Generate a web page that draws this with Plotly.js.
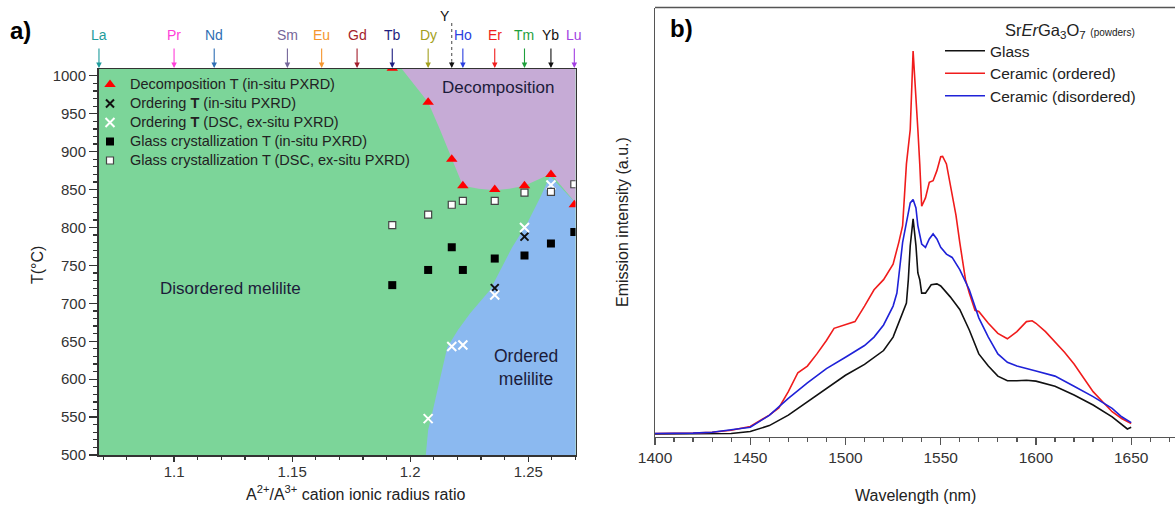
<!DOCTYPE html>
<html>
<head>
<meta charset="utf-8">
<script src="https://cdn.plot.ly/plotly-3.0.1.min.js"></script>
<style>html,body{margin:0;padding:0;background:#fff;}#chart{width:1175px;height:505px;}</style>
</head>
<body>
<div id="chart"></div>
<script>
// ---------- Panel a data ----------
const elems = ['La','Pr','Nd','Sm','Eu','Gd','Tb','Dy','Ho','Er','Tm','Yb','Lu'];
const elemRatio = [1.0682,1.100,1.117,1.148,1.1625,1.1775,1.1924,1.2076,1.2223,1.2358,1.2484,1.2596,1.2695];
const elemColors = ['#1f9c9c','#ff3fd8','#2f6fb4','#75679a','#f5962e','#a41e2c','#1e1e80','#a3a020','#2b3fe0','#f01e1e','#1fa03c','#111111','#a23fe2'];
const yttriumRatio = 1.2176;

const decompX = [1.1924,1.2076,1.2176,1.2223,1.2358,1.2484,1.2596,1.2695];
const decompT = [1010,965,890,855,850,855,870,830];
const orderInsituX = [1.2358,1.2484];
const orderInsituT = [720,788];
const orderDscX = [1.2076,1.2176,1.2223,1.2358,1.2484,1.2596];
const orderDscT = [548,643,645,711,800,856];
const glassInsituX = [1.1924,1.2076,1.2176,1.2223,1.2358,1.2484,1.2596,1.2695];
const glassInsituT = [724,744,774,744,759,763,779,794];
const glassDscX = [1.1924,1.2076,1.2176,1.2223,1.2358,1.2484,1.2596,1.2695];
const glassDscT = [803,817,830,835,835,846,847,857];

const decompRegionX = [1.1937,1.2076,1.2125,1.2176,1.2223,1.2290,1.2358,1.2420,1.2484,1.2596,1.2710,1.2710,1.1937];
const decompRegionT = [1020,965,930,890,855,851,849,851,855,871,829,1020,1020];
const orderedRegionX = [1.2063,1.2076,1.2093,1.2127,1.2157,1.2203,1.2254,1.2339,1.2432,1.2496,1.2551,1.2592,1.2710,1.2710];
const orderedRegionT = [490,533,555,599,642,665,687,718,774,806,840,868,829,490];

const xTickVals = [1.1,1.15,1.2,1.25];
const xTickText = ['1.1','1.15','1.2','1.25'];
const yTickVals = [500,550,600,650,700,750,800,850,900,950,1000];

// ---------- Panel b data ----------
const wlGlass = [1400,1410,1420,1430,1440,1450,1460,1470,1480,1490,1500,1510,1520,1525,1530,1532,1533,1534,1535.5,1537,1538,1539,1540,1542,1545,1548,1550,1555,1560,1565,1570,1575,1580,1585,1590,1595,1600,1610,1620,1630,1640,1645,1648,1650];
const glass = [0.3,0.3,0.3,0.3,0.4,0.9,2.3,4.8,8.0,11.2,14.3,16.9,20.2,23.4,29.1,31.5,37.1,45.2,51.6,45.2,38.7,37.1,33.9,33.9,35.9,36.1,35.6,33.0,30.0,25.1,19.4,16.5,14.1,13.0,13.0,13.1,12.9,11.7,9.6,7.2,4.4,2.5,1.5,1.9];
const wlOrdered = [1400,1410,1420,1430,1440,1450,1460,1465,1470,1475,1480,1485,1490,1494,1500,1505,1510,1515,1520,1525,1528,1530,1532,1534,1535.5,1536.5,1538,1539,1540,1542,1544,1546,1548,1550,1551,1553,1555,1558,1560,1563,1565,1568,1570,1575,1580,1585,1590,1595,1598,1600,1605,1610,1615,1620,1625,1630,1635,1640,1645,1650];
const ordered = [0.4,0.4,0.5,0.7,1.2,2.1,4.8,6.5,10.4,14.9,16.5,19.4,22.6,25.5,26.3,27.1,30.8,34.7,37.1,40.8,46.0,50.0,64.7,72.9,91.6,85,72.9,64.7,54.6,56.6,60.3,60.7,63.1,66.4,66.5,64.7,59.9,52.5,46.0,37.1,33.9,29.8,29.5,26.7,24.3,23.0,24.7,27.1,27.3,26.7,24.7,22.2,19.8,17.0,13.7,10.4,8.0,5.6,4.0,2.8];
const wlDisordered = [1400,1410,1420,1430,1440,1450,1460,1470,1480,1490,1500,1510,1515,1520,1525,1527,1530,1532,1534,1535.5,1537,1538,1540,1542,1544,1546,1548,1550,1553,1556,1560,1565,1570,1575,1580,1585,1590,1600,1610,1620,1630,1640,1645,1650];
const disordered = [0.4,0.4,0.5,0.7,1.3,1.9,4.75,8.8,12.5,15.9,18.6,21.4,23.4,26.3,30.8,33.9,46.0,50.9,55.4,56.2,54.2,50.0,45.6,44.8,46.8,48.0,46.8,44.8,43.2,42.4,39.5,34.7,28.0,23.4,19.4,17.4,16.5,15.3,14.1,11.7,9.2,6.4,4.4,3.0];

// ---------- layout helpers ----------
const W = 1175, H = 505;
const px = v => v / W;
const py = v => 1 - v / H;
const FONT = 'Liberation Sans, Arial, sans-serif';
const GREEN = 'rgb(124,213,153)', PURPLE = 'rgb(198,171,214)', BLUE = 'rgb(139,185,240)';
const big = (s, size) => '<span style="font-size:' + size + 'px">' + s + '</span>';

const traces = [
  {x: orderedRegionX, y: orderedRegionT, type:'scatter', mode:'lines', fill:'toself', fillcolor: BLUE, line:{width:0, color: BLUE}, hoverinfo:'skip', showlegend:false, xaxis:'x', yaxis:'y'},
  {x: decompRegionX, y: decompRegionT, type:'scatter', mode:'lines', fill:'toself', fillcolor: PURPLE, line:{width:0, color: PURPLE}, hoverinfo:'skip', showlegend:false, xaxis:'x', yaxis:'y'},
  {x: orderInsituX, y: orderInsituT, type:'scatter', mode:'markers', name: big('Ordering <b>T</b> (in-situ PXRD)', 14.5), legendrank:2,
   marker:{symbol:'x-thin-open', size:8, color:'#111', line:{color:'#111', width:2}}, xaxis:'x', yaxis:'y'},
  {x: orderDscX, y: orderDscT, type:'scatter', mode:'markers', name: big('Ordering <b>T</b> (DSC, ex-situ PXRD)', 14.5), legendrank:3,
   marker:{symbol:'x-thin-open', size:9, color:'#ffffff', line:{color:'#ffffff', width:2}}, xaxis:'x', yaxis:'y'},
  {x: glassDscX, y: glassDscT, type:'scatter', mode:'markers', name: big('Glass crystallization T (DSC, ex-situ PXRD)', 14.5), legendrank:5,
   marker:{symbol:'square', size:7, color:'#ffffff', line:{color:'#444', width:1.2}}, xaxis:'x', yaxis:'y'},
  {x: glassInsituX, y: glassInsituT, type:'scatter', mode:'markers', name: big('Glass crystallization T (in-situ PXRD)', 14.5), legendrank:4,
   marker:{symbol:'square', size:8, color:'#000000'}, xaxis:'x', yaxis:'y'},
  {x: decompX, y: decompT, type:'scatter', mode:'markers', name: big('Decomposition T (in-situ PXRD)', 14.5), legendrank:1,
   marker:{symbol:'triangle-up', size:10, color:'#ff0000'}, xaxis:'x', yaxis:'y'},
  {x: wlGlass, y: glass, type:'scatter', mode:'lines', name: big('Glass', 15.5), line:{color:'#111', width:1.6}, xaxis:'x2', yaxis:'y2', legend:'legend2', legendrank:1},
  {x: wlOrdered, y: ordered, type:'scatter', mode:'lines', name: big('Ceramic (ordered)', 15.5), line:{color:'#f01c1c', width:1.6}, xaxis:'x2', yaxis:'y2', legend:'legend2', legendrank:2},
  {x: wlDisordered, y: disordered, type:'scatter', mode:'lines', name: big('Ceramic (disordered)', 15.5), line:{color:'#1f22d8', width:1.6}, xaxis:'x2', yaxis:'y2', legend:'legend2', legendrank:3}
];

const annotations = [];
const shapes = [];
// green background of panel a only
shapes.push({type:'rect', xref:'x domain', yref:'y domain', x0:0, x1:1, y0:0, y1:1, fillcolor: GREEN, line:{width:0}, layer:'below'});

elems.forEach((e, i) => {
  annotations.push({x: elemRatio[i], xref:'x', y: py(35), yref:'paper', xanchor:'center', yanchor:'middle', text: e, showarrow:false,
    font:{size:14, color: elemColors[i], family: FONT}});
  annotations.push({x: elemRatio[i], xref:'x', y: py(68), yref:'paper', text:'', showarrow:true,
    ax:0, ay:-21, arrowhead:2, arrowsize:1, arrowwidth:1.1, arrowcolor: elemColors[i]});
});
annotations.push({x: yttriumRatio, xref:'x', xshift:-7, y: py(16), yref:'paper', xanchor:'center', yanchor:'middle', text:'Y', showarrow:false, font:{size:14, color:'#111', family: FONT}});
annotations.push({x: yttriumRatio, xref:'x', y: py(68), yref:'paper', text:'', showarrow:true, ax:0, ay:-8, arrowhead:2, arrowsize:1, arrowwidth:1.1, arrowcolor:'#111'});
shapes.push({type:'line', xref:'x', x0: yttriumRatio, x1: yttriumRatio, yref:'paper', y0: py(23), y1: py(61), line:{color:'#444', width:1, dash:'dot'}});

// region labels
const lab = {showarrow:false, xanchor:'center', yanchor:'middle', xref:'x', yref:'y'};
annotations.push(Object.assign({x:1.1237, y:719, text:'Disordered melilite', font:{size:17, color:'#1c1c3a', family: FONT}}, lab));
annotations.push(Object.assign({x:1.2373, y:984, text:'Decomposition', font:{size:17, color:'#1c1c3a', family: FONT}}, lab));
annotations.push(Object.assign({x:1.2491, y:616, text:'Ordered<br>melilite', font:{size:17.5, color:'#1c1c3a', family: FONT}}, lab));

// panel labels and titles
const pl = {xref:'paper', yref:'paper', showarrow:false, yanchor:'middle'};
annotations.push(Object.assign({x: px(8), y: py(30), xanchor:'left', text:'<b>a)</b>', font:{size:24, color:'#000', family: FONT}}, pl));
annotations.push(Object.assign({x: px(668), y: py(28), xanchor:'left', text:'<b>b)</b>', font:{size:24, color:'#000', family: FONT}}, pl));
annotations.push(Object.assign({x: px(356), y: py(493), xanchor:'center', text:'A<sup>2+</sup>/A<sup>3+</sup> cation ionic radius ratio', font:{size:16, color:'#222', family: FONT}}, pl));
annotations.push(Object.assign({x: px(37), y: py(265), xanchor:'center', text:'T(°C)', textangle:-90, font:{size:16, color:'#222', family: FONT}}, pl));
annotations.push(Object.assign({x: px(915), y: py(495), xanchor:'center', text:'Wavelength (nm)', font:{size:16, color:'#222', family: FONT}}, pl));
annotations.push(Object.assign({x: px(623), y: py(222), xanchor:'center', text:'Emission intensity (a.u.)', textangle:-90, font:{size:16, color:'#222', family: FONT}}, pl));
annotations.push(Object.assign({x: px(1003), y: py(31), xanchor:'left',
  text:'Sr<i>Er</i>Ga<sub>3</sub>O<sub>7</sub> <span style="font-size:10px">(powders)</span>', font:{size:16.5, color:'#222', family: FONT}}, pl));

// panel b top frame
shapes.push({type:'line', xref:'paper', yref:'paper', x0: px(655), x1: 1, y0: py(7.5), y1: py(7.5), line:{color:'#555', width:1.3}});

const layout = {
  width: W, height: H,
  margin:{l:0, r:0, t:0, b:0},
  paper_bgcolor:'#ffffff',
  plot_bgcolor:'#ffffff',
  font:{family: FONT, color:'#333'},
  showlegend:true,
  xaxis:{domain:[px(98.5), px(575.5)], range:[1.068, 1.270], anchor:'y',
    tickmode:'array', tickvals: xTickVals, ticktext: xTickText,
    ticks:'outside', ticklen:5, tickwidth:1.2, tickcolor:'#333', ticklabelstandoff:-3,
    minor:{dtick:0.01, tick0:1.1, ticks:'outside', ticklen:3, tickcolor:'#333', showgrid:false},
    showline:true, linecolor:'#333', linewidth:1.5, mirror:true, showgrid:false, zeroline:false,
    tickfont:{size:15, color:'#333'}},
  yaxis:{domain:[py(455), py(69)], range:[500, 1009], anchor:'x',
    tickmode:'array', tickvals: yTickVals,
    ticks:'outside', ticklen:8, tickwidth:1.2, tickcolor:'#333',
    minor:{dtick:10, tick0:500, ticks:'outside', ticklen:4, tickcolor:'#333', showgrid:false},
    showline:true, linecolor:'#333', linewidth:1.5, mirror:true, showgrid:false, zeroline:false,
    tickfont:{size:15, color:'#333'}},
  xaxis2:{domain:[px(655), 1], range:[1400, 1673], anchor:'y2',
    tick0:1400, dtick:50, ticks:'outside', ticklen:7, tickwidth:1.2, tickcolor:'#555',
    minor:{dtick:10, ticks:'outside', ticklen:4, tickcolor:'#555', showgrid:false},
    showline:true, linecolor:'#555', linewidth:1.3, showgrid:false, zeroline:false,
    tickfont:{size:15.5, color:'#333'}},
  yaxis2:{domain:[py(436.5), py(7.5)], range:[-0.3, 102], anchor:'x2',
    showticklabels:false, ticks:'', showline:true, linecolor:'#555', linewidth:1.3, showgrid:false, zeroline:false},
  legend:{x: px(90), xanchor:'left', y: py(70), yanchor:'top', bgcolor:'rgba(0,0,0,0)', borderwidth:0,
    font:{size:11.8, color:'#222', family: FONT}, tracegroupgap:0, traceorder:'normal'},
  legend2:{x: px(940), xanchor:'left', y: py(34.5), yanchor:'top', bgcolor:'rgba(0,0,0,0)', borderwidth:0,
    font:{size:15, color:'#222', family: FONT}, traceorder:'normal', itemwidth:40},
  annotations: annotations,
  shapes: shapes
};

Plotly.newPlot('chart', traces, layout, {displayModeBar:false, staticPlot:true});
</script>
</body>
</html>
